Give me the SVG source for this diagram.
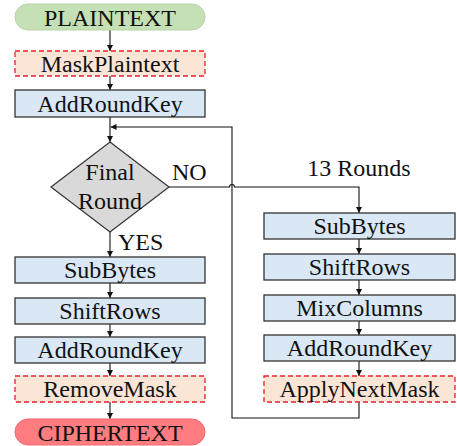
<svg xmlns="http://www.w3.org/2000/svg" width="457" height="446" viewBox="0 0 457 446">
  <style>
    text { font-family: "Liberation Serif", "Times New Roman", serif; font-size: 24px; fill: #111; text-anchor: middle; }
    .op { fill: #dae8f5; stroke: #333; stroke-width: 1.3; }
    .mask { fill: #fbe5d6; stroke: #e8232a; stroke-width: 1.3; stroke-dasharray: 5 3; }
    .start { fill: #c5e0b4; stroke: #b8d4a8; stroke-width: 1; }
    .end { fill: #ff7c80; stroke: #f26b70; stroke-width: 1; }
    .dec { fill: #d9d9d9; stroke: #333; stroke-width: 1.2; }
    .wire { fill: none; stroke: #111; stroke-width: 1.1; }
    .lbl { text-anchor: start; }
  </style>
  <defs>
    <marker id="ah" markerWidth="6" markerHeight="6" refX="6" refY="3" orient="auto" markerUnits="userSpaceOnUse">
      <path d="M0,0 L6,3 L0,6 Z" fill="#111"/>
    </marker>
  </defs>

  <g id="connectors">
    <path class="wire" d="M110,30 V51" marker-end="url(#ah)"/>
    <path class="wire" d="M110,76 V90" marker-end="url(#ah)"/>
    <path class="wire" d="M110,117 V142" marker-end="url(#ah)"/>
    <path class="wire" d="M110,232 V257" marker-end="url(#ah)"/>
    <path class="wire" d="M110,283 V298" marker-end="url(#ah)"/>
    <path class="wire" d="M110,324 V337" marker-end="url(#ah)"/>
    <path class="wire" d="M110,363 V376" marker-end="url(#ah)"/>
    <path class="wire" d="M110,402 V419" marker-end="url(#ah)"/>
    <!-- NO branch, hopping over the loop-back line -->
    <path class="wire" d="M169,187 H229.5 A2.5,2.5 0 0 1 234.5,187 H359 V213" marker-end="url(#ah)"/>
    <path class="wire" d="M359,239 V254" marker-end="url(#ah)"/>
    <path class="wire" d="M359,280 V295" marker-end="url(#ah)"/>
    <path class="wire" d="M359,321 V335" marker-end="url(#ah)"/>
    <path class="wire" d="M359,361 V376" marker-end="url(#ah)"/>
    <!-- loop back to the round check -->
    <path class="wire" d="M359,402 V418 H232 V127 H110.5" marker-end="url(#ah)"/>
  </g>

  <g id="plaintext">
    <rect class="start" x="15" y="4" width="190" height="26" rx="13"/>
    <text x="110" y="25.5">PLAINTEXT</text>
  </g>
  <g id="mask-plaintext">
    <rect class="mask" x="15" y="51" width="190" height="25"/>
    <text x="110" y="71.5">MaskPlaintext</text>
  </g>
  <g id="add-round-key-0">
    <rect class="op" x="15" y="90" width="190" height="27"/>
    <text x="110" y="111.5">AddRoundKey</text>
  </g>
  <g id="final-round">
    <polygon class="dec" points="110,142 169,187 110,232 51,187"/>
    <text x="110" y="180">Final</text>
    <text x="110" y="209">Round</text>
  </g>
  <g id="labels">
    <text class="lbl" x="172" y="180">NO</text>
    <text class="lbl" x="118" y="250">YES</text>
    <text x="359" y="176">13 Rounds</text>
  </g>

  <g id="final-subbytes">
    <rect class="op" x="15" y="257" width="190" height="26"/>
    <text x="110" y="278">SubBytes</text>
  </g>
  <g id="final-shiftrows">
    <rect class="op" x="15" y="298" width="190" height="26"/>
    <text x="110" y="319">ShiftRows</text>
  </g>
  <g id="final-add-round-key">
    <rect class="op" x="15" y="337" width="190" height="26"/>
    <text x="110" y="358">AddRoundKey</text>
  </g>
  <g id="remove-mask">
    <rect class="mask" x="15" y="376" width="190" height="26"/>
    <text x="110" y="397">RemoveMask</text>
  </g>
  <g id="ciphertext">
    <rect class="end" x="15" y="419" width="190" height="26" rx="13"/>
    <text x="110" y="440.5">CIPHERTEXT</text>
  </g>

  <g id="round-subbytes">
    <rect class="op" x="264" y="213" width="191" height="26"/>
    <text x="359.5" y="234">SubBytes</text>
  </g>
  <g id="round-shiftrows">
    <rect class="op" x="264" y="254" width="191" height="26"/>
    <text x="359.5" y="275">ShiftRows</text>
  </g>
  <g id="round-mixcolumns">
    <rect class="op" x="264" y="295" width="191" height="26"/>
    <text x="359.5" y="316">MixColumns</text>
  </g>
  <g id="round-add-round-key">
    <rect class="op" x="264" y="335" width="191" height="26"/>
    <text x="359.5" y="356">AddRoundKey</text>
  </g>
  <g id="apply-next-mask">
    <rect class="mask" x="264" y="376" width="191" height="26"/>
    <text x="359.5" y="397">ApplyNextMask</text>
  </g>
</svg>
